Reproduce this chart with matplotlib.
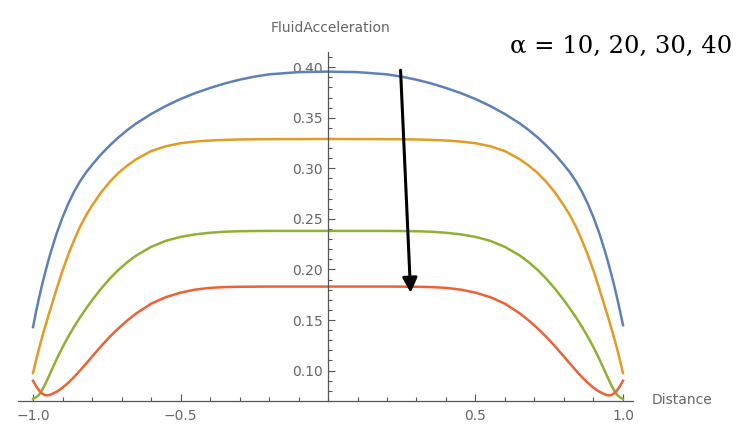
# Fluid acceleration vs distance, four alpha values (Mathematica-style axes)
import numpy as np
import matplotlib.pyplot as plt
from matplotlib.ticker import MultipleLocator, FixedLocator

# distance grid
x = [-1.0, -0.99, -0.98, -0.97, -0.96, -0.95, -0.94, -0.92, -0.9, -0.88,
     -0.86, -0.84, -0.82, -0.8, -0.77, -0.74, -0.71, -0.68, -0.65, -0.6,
     -0.55, -0.5, -0.45, -0.4, -0.35, -0.3, -0.25, -0.2, -0.1, 0.0,
     0.1, 0.2, 0.25, 0.3, 0.35, 0.4, 0.45, 0.5, 0.55, 0.6,
     0.65, 0.68, 0.71, 0.74, 0.77, 0.8, 0.82, 0.84, 0.86, 0.88,
     0.9, 0.92, 0.94, 0.95, 0.96, 0.97, 0.98, 0.99, 1.0]

acc_10 = [0.143, 0.158, 0.1715, 0.184, 0.1957, 0.2067, 0.217, 0.2356, 0.2516, 0.2654,
          0.2774, 0.2874, 0.296, 0.3034, 0.3136, 0.3226, 0.3307, 0.3379, 0.3444, 0.3536,
          0.3616, 0.3685, 0.3744, 0.3794, 0.3839, 0.3876, 0.3906, 0.3929, 0.3951, 0.3956,
          0.3951, 0.3929, 0.3906, 0.3876, 0.3839, 0.3794, 0.3744, 0.3685, 0.3616, 0.3536,
          0.3444, 0.3379, 0.3307, 0.3226, 0.3136, 0.3034, 0.296, 0.2874, 0.2774, 0.2654,
          0.2516, 0.2356, 0.217, 0.2067, 0.1957, 0.1845, 0.172, 0.159, 0.145]
acc_20 = [0.0976, 0.1099, 0.1215, 0.1323, 0.1425, 0.1523, 0.1618, 0.1808, 0.1988, 0.215,
          0.2296, 0.2426, 0.2537, 0.2631, 0.2759, 0.2866, 0.2956, 0.3028, 0.309, 0.317,
          0.3218, 0.3248, 0.3265, 0.3275, 0.3281, 0.3285, 0.3287, 0.3288, 0.3289, 0.329,
          0.3289, 0.3288, 0.3287, 0.3285, 0.3281, 0.3275, 0.3265, 0.3248, 0.3218, 0.317,
          0.309, 0.3028, 0.2956, 0.2866, 0.2759, 0.2631, 0.2537, 0.2426, 0.2296, 0.215,
          0.1988, 0.1808, 0.1618, 0.1523, 0.1425, 0.1323, 0.1215, 0.1099, 0.0976]
acc_30 = [0.072, 0.0735, 0.076, 0.0805, 0.086, 0.092, 0.0985, 0.1113, 0.1231, 0.1339,
          0.1438, 0.1529, 0.1614, 0.1695, 0.1808, 0.1908, 0.1997, 0.2073, 0.2138, 0.2223,
          0.2283, 0.2322, 0.2347, 0.2363, 0.2373, 0.2378, 0.238, 0.2381, 0.2381, 0.2381,
          0.2381, 0.2381, 0.238, 0.2378, 0.2373, 0.2363, 0.2347, 0.2322, 0.2283, 0.2223,
          0.2138, 0.2073, 0.1997, 0.1908, 0.1808, 0.1695, 0.1614, 0.1529, 0.1438, 0.1339,
          0.1231, 0.1113, 0.0985, 0.092, 0.086, 0.0805, 0.076, 0.0735, 0.072]
acc_40 = [0.090, 0.0848, 0.0805, 0.0775, 0.0758, 0.0755, 0.0763, 0.0791, 0.0831, 0.0881,
          0.0939, 0.1003, 0.107, 0.1138, 0.1239, 0.1334, 0.1419, 0.1497, 0.1566, 0.1661,
          0.1726, 0.1771, 0.1801, 0.1818, 0.1826, 0.1829, 0.183, 0.1831, 0.1831, 0.1831,
          0.1831, 0.1831, 0.183, 0.1829, 0.1826, 0.1818, 0.1801, 0.1771, 0.1726, 0.1661,
          0.1566, 0.1497, 0.1419, 0.1334, 0.1239, 0.1138, 0.107, 0.1003, 0.0939, 0.0881,
          0.0831, 0.0791, 0.0763, 0.0755, 0.0758, 0.0775, 0.0805, 0.0848, 0.090]

colors = ['#5E81B5', '#E19C24', '#8FB032', '#EB6235']
grey = '#666666'

fig = plt.figure(figsize=(7.43, 4.28), dpi=100)
ax = fig.add_axes([18/743, 1 - 405/428, (633 - 18)/743, (405 - 52)/428])

for y, c in zip([acc_10, acc_20, acc_30, acc_40], colors):
    ax.plot(x, y, color=c, lw=1.8, solid_joinstyle='round')

ax.set_xlim(-1.051, 1.034)
ax.set_ylim(0.066, 0.415)

# axes cross at (0, 0.07) like Mathematica
for s in ['top', 'right']:
    ax.spines[s].set_visible(False)
ax.spines['left'].set_position(('data', 0))
ax.spines['bottom'].set_position(('data', 0.07))
ax.spines['bottom'].set_bounds(-1.051, 1.034)
ax.spines['left'].set_bounds(0.07, 0.415)
for s in ['left', 'bottom']:
    ax.spines[s].set_color('#555555')
    ax.spines[s].set_linewidth(0.9)

ax.xaxis.set_major_locator(FixedLocator([-1.0, -0.5, 0.5, 1.0]))
ax.xaxis.set_minor_locator(MultipleLocator(0.1))
ax.yaxis.set_major_locator(FixedLocator([0.10, 0.15, 0.20, 0.25, 0.30, 0.35, 0.40]))
ax.yaxis.set_minor_locator(MultipleLocator(0.01))
ax.set_xticklabels(['\u22121.0', '\u22120.5', '0.5', '1.0'])
ax.set_yticklabels(['0.10', '0.15', '0.20', '0.25', '0.30', '0.35', '0.40'])
ax.tick_params(which='both', direction='in', colors='#555555', labelcolor=grey,
               labelsize=10, width=0.8)
ax.tick_params(which='major', length=5)
ax.tick_params(which='minor', length=3)
ax.tick_params(axis='x', pad=6)
ax.tick_params(axis='y', pad=4)

fig.text(330/743, 1 - 28/428, 'FluidAcceleration', color=grey, fontsize=10,
         ha='center', va='center')
fig.text(652/743, 1 - 400/428, 'Distance', color=grey, fontsize=10,
         ha='left', va='center')

# annotation
fig.text(510/743, 1 - 53/428, '\u03b1 = 10, 20, 30, 40', color='black',
         fontsize=17.5, family='DejaVu Serif', ha='left', va='baseline')
ax.annotate('', xy=(0.280, 0.177), xytext=(0.246, 0.397),
            arrowprops=dict(arrowstyle='-|>', color='black', lw=2.2,
                            mutation_scale=22, shrinkA=0, shrinkB=0))

fig.savefig('out.png', dpi=100)
